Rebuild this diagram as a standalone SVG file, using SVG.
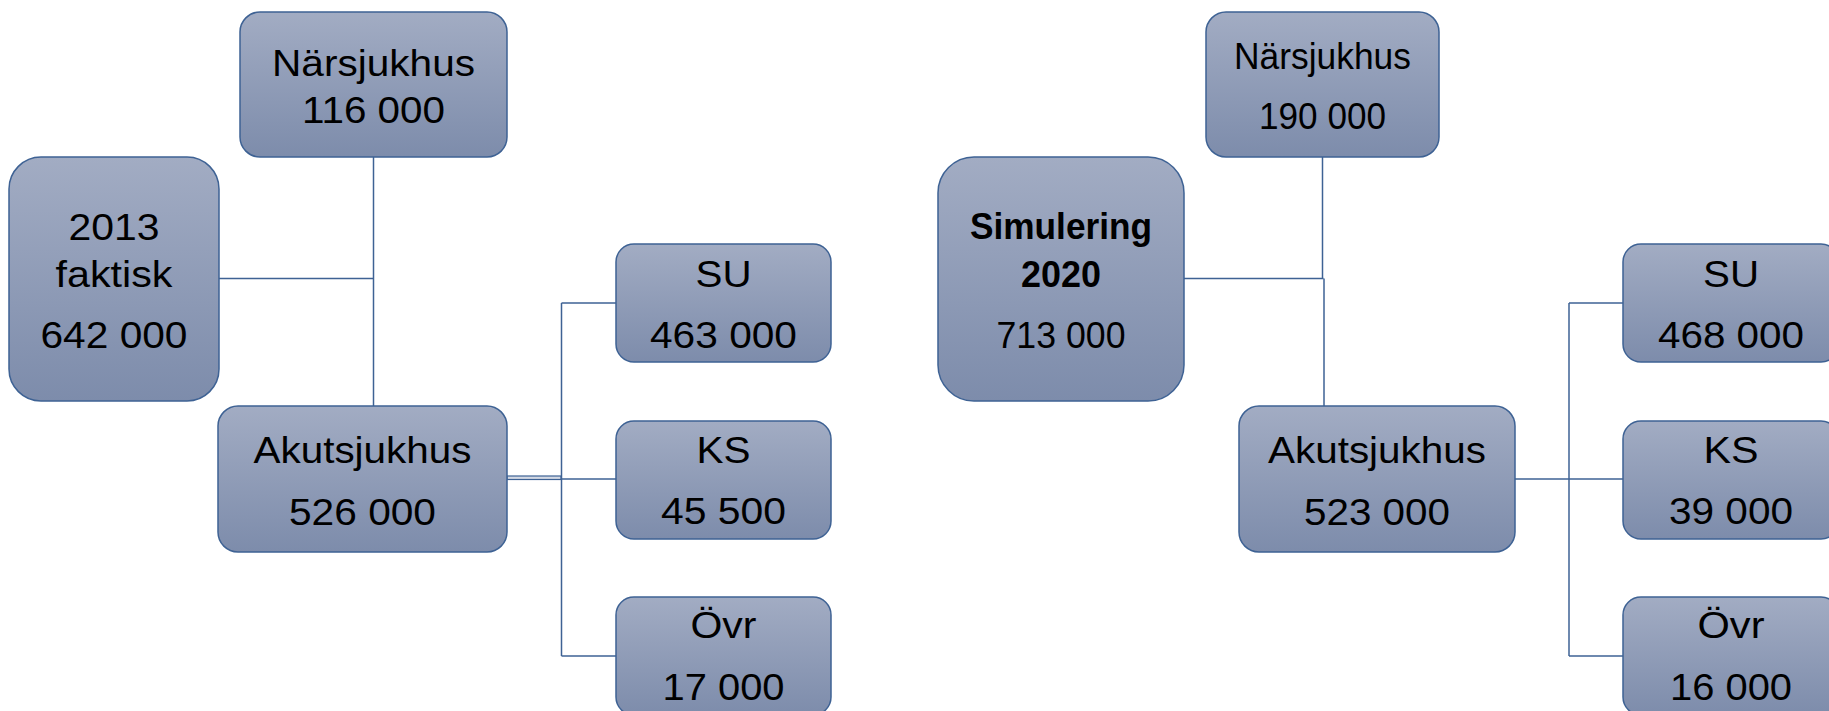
<svg xmlns="http://www.w3.org/2000/svg" width="1829" height="711" viewBox="0 0 1829 711">
  <defs>
    <linearGradient id="g" x1="0" y1="0" x2="0" y2="1">
      <stop offset="0" stop-color="#A2ACC3"/>
      <stop offset="1" stop-color="#7D8CAB"/>
    </linearGradient>
    <style>
      .box { fill: url(#g); stroke: #3E6294; stroke-width: 1.5; }
      .t { font-family: "Liberation Sans", Arial, sans-serif; font-size: 37.5px; fill: #000; text-anchor: middle; }
      .b { font-weight: bold; }
      .c { stroke: #3E6294; stroke-width: 1.5; fill: none; }
    </style>
  </defs>
  <rect width="1829" height="711" fill="#FFFFFF"/>

  <g id="connectors">
    <!-- left panel -->
    <line class="c" x1="219" y1="278.5" x2="373.5" y2="278.5"/>
    <line class="c" x1="373.5" y1="157" x2="373.5" y2="406"/>
    <rect x="507" y="476" width="54" height="3.5" fill="#D3D9E4" stroke="#3E6294" stroke-width="1.2"/>
    <line class="c" x1="561.5" y1="303" x2="561.5" y2="656"/>
    <line class="c" x1="561.5" y1="303" x2="616" y2="303"/>
    <line class="c" x1="561.5" y1="479" x2="616" y2="479"/>
    <line class="c" x1="561.5" y1="656" x2="616" y2="656"/>
    <!-- right panel -->
    <line class="c" x1="1184" y1="278.5" x2="1323.5" y2="278.5"/>
    <line class="c" x1="1322.5" y1="157" x2="1322.5" y2="278.5"/>
    <line class="c" x1="1324" y1="278.5" x2="1324" y2="406"/>
    <line class="c" x1="1515" y1="479" x2="1623" y2="479"/>
    <line class="c" x1="1569" y1="303" x2="1569" y2="656"/>
    <line class="c" x1="1569" y1="303" x2="1623" y2="303"/>
    <line class="c" x1="1569" y1="656" x2="1623" y2="656"/>
  </g>

  <!-- Left panel nodes -->
  <g id="l-narsjukhus">
    <rect class="box" x="240" y="12" width="267" height="145" rx="20"/>
    <text class="t" x="373.5" y="76" textLength="203" lengthAdjust="spacingAndGlyphs">Närsjukhus</text>
    <text class="t" x="373.5" y="123" textLength="143" lengthAdjust="spacingAndGlyphs">116 000</text>
  </g>
  <g id="l-2013">
    <rect class="box" x="9" y="157" width="210" height="244" rx="32"/>
    <text class="t" x="114" y="240" textLength="91" lengthAdjust="spacingAndGlyphs">2013</text>
    <text class="t" x="114" y="287" textLength="117" lengthAdjust="spacingAndGlyphs">faktisk</text>
    <text class="t" x="114" y="348" textLength="147" lengthAdjust="spacingAndGlyphs">642 000</text>
  </g>
  <g id="l-akutsjukhus">
    <rect class="box" x="218" y="406" width="289" height="146" rx="20"/>
    <text class="t" x="362.5" y="463" textLength="218" lengthAdjust="spacingAndGlyphs">Akutsjukhus</text>
    <text class="t" x="362.5" y="525" textLength="147" lengthAdjust="spacingAndGlyphs">526 000</text>
  </g>
  <g id="l-su">
    <rect class="box" x="616" y="244" width="215" height="118" rx="18"/>
    <text class="t" x="723.5" y="287" textLength="56" lengthAdjust="spacingAndGlyphs">SU</text>
    <text class="t" x="723.5" y="348" textLength="147" lengthAdjust="spacingAndGlyphs">463 000</text>
  </g>
  <g id="l-ks">
    <rect class="box" x="616" y="421" width="215" height="118" rx="18"/>
    <text class="t" x="723.5" y="463" textLength="54" lengthAdjust="spacingAndGlyphs">KS</text>
    <text class="t" x="723.5" y="524" textLength="125" lengthAdjust="spacingAndGlyphs">45 500</text>
  </g>
  <g id="l-ovr">
    <rect class="box" x="616" y="597" width="215" height="118" rx="18"/>
    <text class="t" x="723.5" y="638" textLength="66" lengthAdjust="spacingAndGlyphs">Övr</text>
    <text class="t" x="723.5" y="700" textLength="122" lengthAdjust="spacingAndGlyphs">17 000</text>
  </g>

  <!-- Right panel nodes -->
  <g id="r-narsjukhus">
    <rect class="box" x="1206" y="12" width="233" height="145" rx="20"/>
    <text class="t" x="1322.5" y="69" textLength="177" lengthAdjust="spacingAndGlyphs">Närsjukhus</text>
    <text class="t" x="1322.5" y="129" textLength="127" lengthAdjust="spacingAndGlyphs">190 000</text>
  </g>
  <g id="r-simulering">
    <rect class="box" x="938" y="157" width="246" height="244" rx="36"/>
    <text class="t b" x="1061" y="239" textLength="182" lengthAdjust="spacingAndGlyphs">Simulering</text>
    <text class="t b" x="1061" y="287" textLength="80" lengthAdjust="spacingAndGlyphs">2020</text>
    <text class="t" x="1061" y="348" textLength="129" lengthAdjust="spacingAndGlyphs">713 000</text>
  </g>
  <g id="r-akutsjukhus">
    <rect class="box" x="1239" y="406" width="276" height="146" rx="20"/>
    <text class="t" x="1377" y="463" textLength="218" lengthAdjust="spacingAndGlyphs">Akutsjukhus</text>
    <text class="t" x="1377" y="525" textLength="146" lengthAdjust="spacingAndGlyphs">523 000</text>
  </g>
  <g id="r-su">
    <rect class="box" x="1623" y="244" width="216" height="118" rx="18"/>
    <text class="t" x="1731" y="287" textLength="56" lengthAdjust="spacingAndGlyphs">SU</text>
    <text class="t" x="1731" y="348" textLength="146" lengthAdjust="spacingAndGlyphs">468 000</text>
  </g>
  <g id="r-ks">
    <rect class="box" x="1623" y="421" width="216" height="118" rx="18"/>
    <text class="t" x="1731" y="463" textLength="55" lengthAdjust="spacingAndGlyphs">KS</text>
    <text class="t" x="1731" y="524" textLength="124" lengthAdjust="spacingAndGlyphs">39 000</text>
  </g>
  <g id="r-ovr">
    <rect class="box" x="1623" y="597" width="216" height="118" rx="18"/>
    <text class="t" x="1731" y="638" textLength="67" lengthAdjust="spacingAndGlyphs">Övr</text>
    <text class="t" x="1731" y="700" textLength="122" lengthAdjust="spacingAndGlyphs">16 000</text>
  </g>
</svg>
